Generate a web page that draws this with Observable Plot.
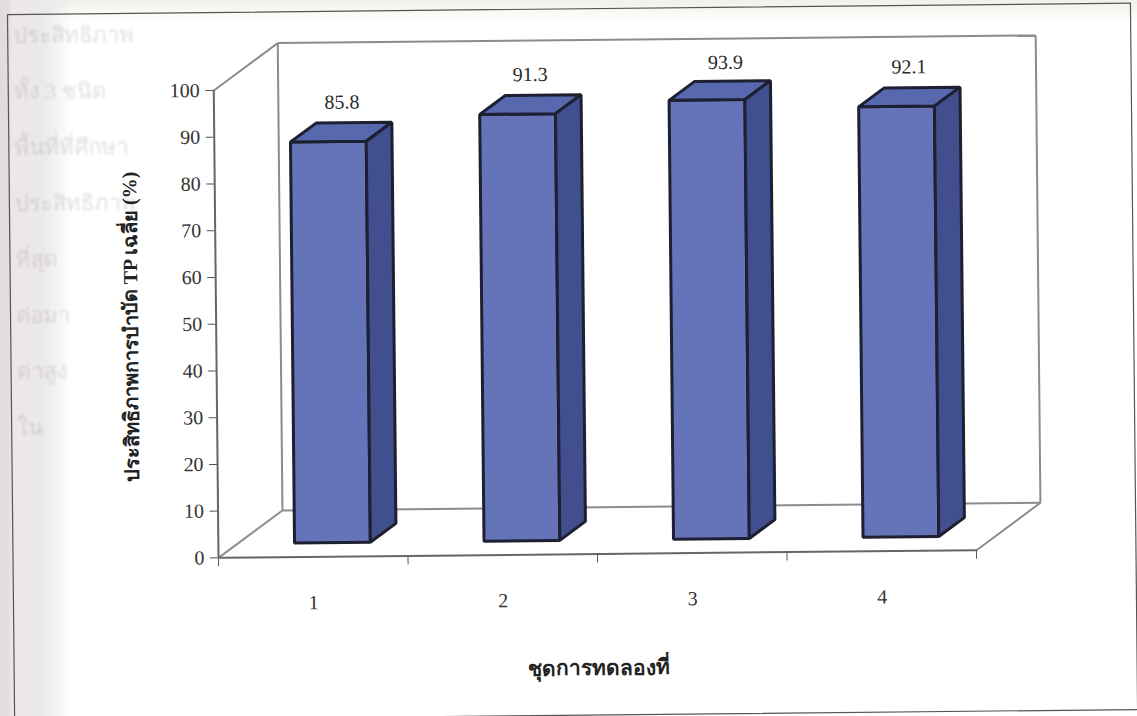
<!DOCTYPE html>
<html>
<head>
<meta charset="utf-8">
<script src="https://cdn.jsdelivr.net/npm/d3@7"></script>
<script src="https://cdn.jsdelivr.net/npm/@observablehq/plot@0.6"></script>
<style>
  html, body { margin: 0; padding: 0; width: 1137px; height: 716px; overflow: hidden; }
  body {
    background:
      linear-gradient(90deg, #e0dcdb 0, #e2dedd 8px, #ece8ea 12px, #ece9ea 44px, rgba(255,255,255,0) 72px),
      linear-gradient(180deg, #f1f0ea 0, #f8f7f3 10px, #ffffff 22px);
  }
  svg { display: block; }
  .show-through { filter: blur(1.1px); }
</style>
</head>
<body>
<div id="chart"></div>
<script>
// Average TP removal efficiency for each experiment set
const experiments = ["1", "2", "3", "4"];
const efficiency = [85.8, 91.3, 93.9, 92.1];
const yTicks = [0, 10, 20, 30, 40, 50, 60, 70, 80, 90, 100];
const xBoundaries = [0, 1, 2, 3, 4];
const xTitle = "ชุดการทดลองที่";
const yTitle = "ประสิทธิภาพการบำบัด TP เฉลี่ย (%)";

// Line starts of the facing page, faintly visible through the paper
const showThrough = ["ประสิทธิภาพ", "ทั้ง 3 ชนิด", "พื้นที่ที่ศึกษา", "ประสิทธิภาพ", "ที่สุด", "ต่อมา", "ค่าสูง", "ใน"];

// Oblique projection: depth d (0 front, 1 back) shifts a point along both scales
const depthX = 0.34;
const depthY = 10;
const barWidth = 0.4;
const barFront = 0.3;
const barBack = 0.7;
const project = (x, y, d) => ({x: x + d * depthX, y: y + d * depthY});

// Corners of the three visible faces of each bar
const faces = experiments.flatMap((name, i) => {
  const x0 = i + 0.5 - barWidth / 2;
  const x1 = i + 0.5 + barWidth / 2;
  const v = efficiency[i];
  const poly = (kind, corners) =>
    corners.map(([x, y, d]) => ({...project(x, y, d), id: `${name}-${kind}`, kind}));
  return [
    ...poly("front", [[x0, 0, barFront], [x1, 0, barFront], [x1, v, barFront], [x0, v, barFront]]),
    ...poly("top", [[x0, v, barFront], [x1, v, barFront], [x1, v, barBack], [x0, v, barBack]]),
    ...poly("side", [[x1, 0, barFront], [x1, 0, barBack], [x1, v, barBack], [x1, v, barFront]])
  ];
});

// Back wall and floor edges of the 3D box
const edge = (a, b) => {
  const p = project(...a), q = project(...b);
  return {x1: p.x, y1: p.y, x2: q.x, y2: q.y};
};
const boxEdges = [
  edge([0, 100, 1], [4, 100, 1]),
  edge([0, 0, 1], [4, 0, 1]),
  edge([0, 0, 1], [0, 100, 1]),
  edge([4, 0, 1], [4, 100, 1]),
  edge([0, 100, 0], [0, 100, 1]),
  edge([0, 0, 0], [0, 0, 1]),
  edge([4, 0, 0], [4, 0, 1])
];

const serif = "'Liberation Serif', 'Noto Sans CJK SC', serif";

// Value above a bar, centred on the bar's depth
const valueLabel = (i, dx, dy) => Plot.text([efficiency[i]], {
  x: () => i + 0.5 + depthX * (barFront + barBack) / 2,
  y: d => d + depthY * (barFront + barBack) / 2,
  text: d => d.toFixed(1),
  dx,
  dy,
  fontSize: 20,
  fill: "#2a2a2a"
});

const chart = Plot.plot({
  width: 1137,
  height: 716,
  marginTop: 86.4,
  marginBottom: 162.2,
  marginLeft: 216,
  marginRight: 163,
  style: {
    background: "transparent",
    fontFamily: serif,
    transform: "rotate(-0.58deg)",
    overflow: "visible"
  },
  x: {domain: [0, 4]},
  y: {domain: [0, 100]},
  color: {domain: ["front", "top", "side"], range: ["#6574b8", "#5868ae", "#424f8e"]},
  marks: [
    // Faint text from the facing page
    ...showThrough.map((line, k) => Plot.text([line], {
      frameAnchor: "top-left",
      dx: -200,
      dy: -65 + 56 * k,
      fontSize: 22,
      fill: "#6a6470",
      fillOpacity: 0.2,
      className: "show-through"
    })),
    // Page border around the figure
    Plot.frame({
      stroke: "#555",
      strokeWidth: 1.2,
      insetLeft: -205.5,
      insetRight: -159.5,
      insetTop: -78,
      insetBottom: -161
    }),
    Plot.link(boxEdges, {x1: "x1", y1: "y1", x2: "x2", y2: "y2", stroke: "#8c8c8c", strokeWidth: 2}),
    Plot.axisY({
      ticks: yTicks,
      tickSize: 8,
      tickPadding: 6,
      tickFormat: d => String(d),
      label: null,
      fontSize: 20,
      color: "#333",
      stroke: "#555"
    }),
    Plot.axisX({
      ticks: xBoundaries,
      tickSize: 9,
      tickFormat: () => "",
      label: null,
      stroke: "#555"
    }),
    Plot.ruleX([0], {stroke: "#666", strokeWidth: 2}),
    Plot.ruleY([0], {stroke: "#666", strokeWidth: 2}),
    // Category numbers sit well below the axis
    Plot.axisX({
      ticks: experiments.map((_, i) => i + 0.5),
      tickSize: 0,
      tickPadding: 38,
      tickFormat: d => experiments[Math.floor(d)],
      label: null,
      fontSize: 20,
      color: "#333"
    }),
    // 3D bars
    Plot.line(faces, {
      x: "x",
      y: "y",
      z: "id",
      fill: "kind",
      stroke: "#1d2030",
      strokeWidth: 3,
      strokeLinejoin: "miter",
      curve: "linear-closed"
    }),
    valueLabel(0, 1, -30),
    valueLabel(1, 0, -30),
    valueLabel(2, 6, -28),
    valueLabel(3, 0, -30),
    Plot.text([xTitle], {
      frameAnchor: "bottom",
      dy: 121,
      fontSize: 21,
      fontWeight: "bold",
      fill: "#222"
    }),
    Plot.text([yTitle], {
      frameAnchor: "left",
      textAnchor: "middle",
      dx: -85,
      dy: 2,
      rotate: -90,
      fontSize: 20,
      fontWeight: "bold",
      fill: "#222"
    })
  ]
});

document.getElementById("chart").append(chart);
</script>
</body>
</html>
